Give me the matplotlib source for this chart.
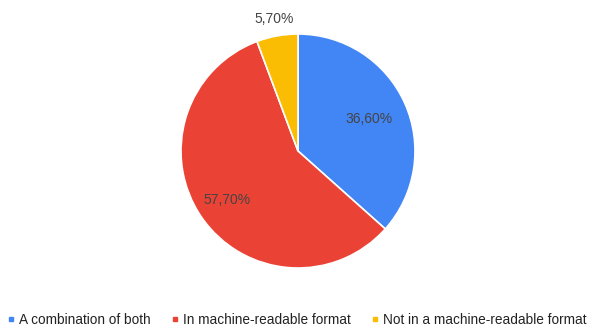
import numpy as np
import matplotlib.pyplot as plt
from matplotlib.lines import Line2D

plt.rcParams['font.family'] = ['Liberation Sans', 'DejaVu Sans']

# Survey shares, clockwise from 12 o'clock
categories = ['A combination of both', 'In machine-readable format',
              'Not in a machine-readable format']
shares = [36.6, 57.7, 5.7]
labels = ['36,60%', '57,70%', '5,70%']
colors = ['#4285F4', '#EA4335', '#FBBC04']
label_radius = [0.66, 0.74, 1.15]

fig = plt.figure(figsize=(5.94, 3.26), dpi=100)
ax = fig.add_axes([181 / 594, 58 / 326, 234 / 594, 234 / 326])

wedges, _ = ax.pie(shares, colors=colors, startangle=90, counterclock=False,
                   radius=1, wedgeprops=dict(edgecolor='white', linewidth=1.2))
ax.set_xlim(-1, 1)
ax.set_ylim(-1, 1)
ax.set_aspect('equal')
ax.axis('off')

# Percentage labels placed along each wedge's mid angle
for w, lab, r in zip(wedges, labels, label_radius):
    mid = np.deg2rad((w.theta1 + w.theta2) / 2)
    ax.text(r * np.cos(mid), r * np.sin(mid), lab, ha='center', va='center',
            fontsize=10, color='#444444', clip_on=False)

handles = [Line2D([], [], marker='s', linestyle='none', markersize=3.5,
                  markerfacecolor=c, markeredgecolor=c) for c in colors]
fig.legend(handles, categories, loc='center', bbox_to_anchor=(0.5, 0.018),
           ncol=3, frameon=False, fontsize=9.8, handlelength=0.5,
           handletextpad=0.35, columnspacing=1.5, labelcolor='#222222')

fig.savefig('out.png', dpi=100)
